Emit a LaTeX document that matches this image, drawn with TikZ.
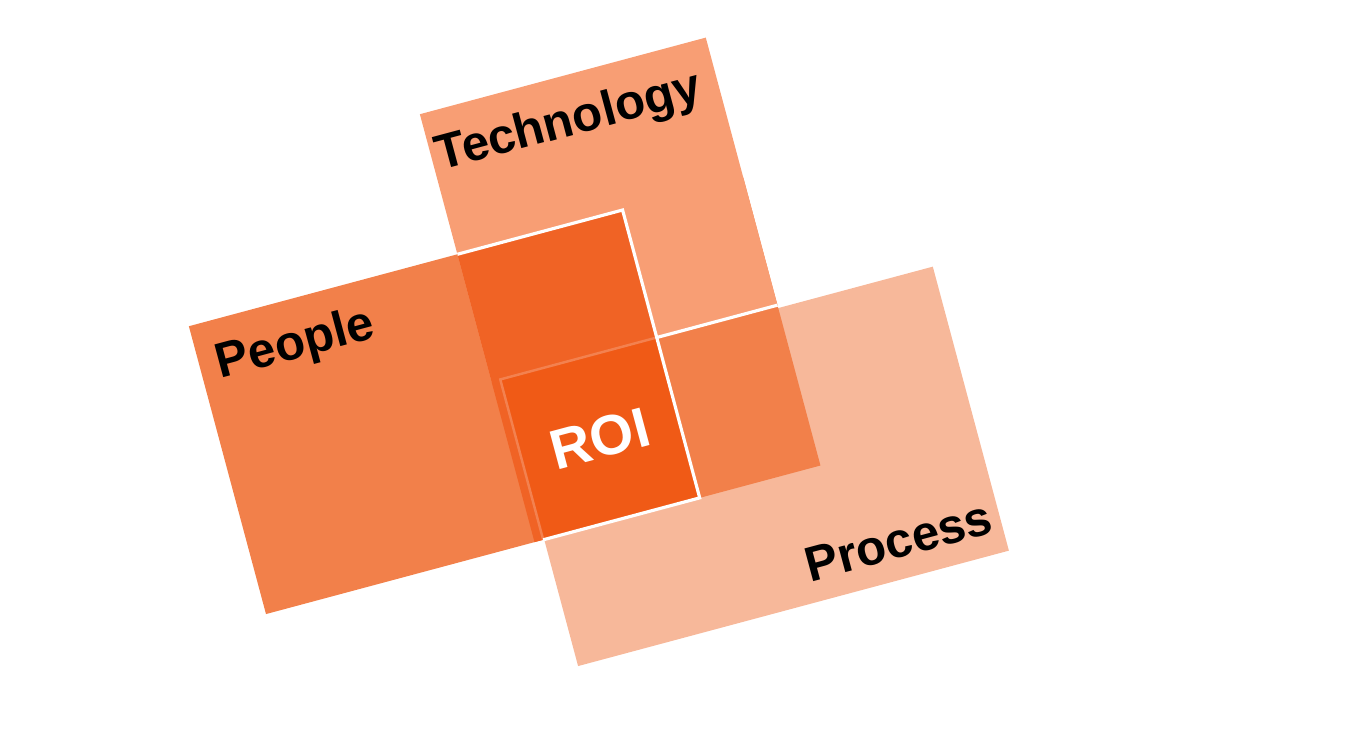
\documentclass[tikz,border=0pt]{standalone}
\usepackage{fontspec}
\setmainfont{Liberation Sans}
\usetikzlibrary{positioning}
\definecolor{techfill}{HTML}{F89E74}
\definecolor{peoplefill}{HTML}{F2804A}
\definecolor{procfill}{HTML}{F7B89A}
\definecolor{corefill}{HTML}{F06325}
\definecolor{roifill}{HTML}{F05A16}
\definecolor{roiedge}{HTML}{F3814F}

\begin{document}
\begin{tikzpicture}[x=0.02cm,y=0.02cm,every node/.style={font=\bfseries\fontsize{28}{32}\selectfont,inner sep=0pt}]
\useasboundingbox (0,0) rectangle (1350,-742);
\begin{scope}[rotate=15]
\coordinate (c0) at (376,-364);
\coordinate (c1) at (547,-364);
\coordinate (c2) at (547,-662);
\coordinate (c3) at (385,-662);
\coordinate (r0) at (385,-496);
\coordinate (t0) at (547,-496);
\coordinate (t1) at (672,-496);
\fill[procfill] (386,-499) rectangle (832,-793);
\fill[peoplefill] (98,-364) rectangle (672,-662);
\fill[techfill] (376,-219) rectangle (672,-496);
\fill[corefill] (c0) rectangle (c2);
\fill[roifill] (r0) rectangle (c2);
\draw[roiedge,line width=1.4pt] (c3)--(r0)--(t0);
\draw[white,line width=1.8pt] (c0)--(c1)--(c2)--(c3);
\draw[white,line width=1.8pt] (t0)--(t1);
\node[anchor=base west,rotate=15] (tech) at (381,-279) {Technology};
\node[anchor=base west,rotate=15] (people) at (115,-423) {People};
\node[anchor=base east,rotate=15] (proc) at (824,-772) {Process};
\node[rotate=15,text=white,font=\bfseries\fontsize{32}{36}\selectfont] (roi) at (466,-579) {ROI};
\end{scope}
\end{tikzpicture}
\end{document}
